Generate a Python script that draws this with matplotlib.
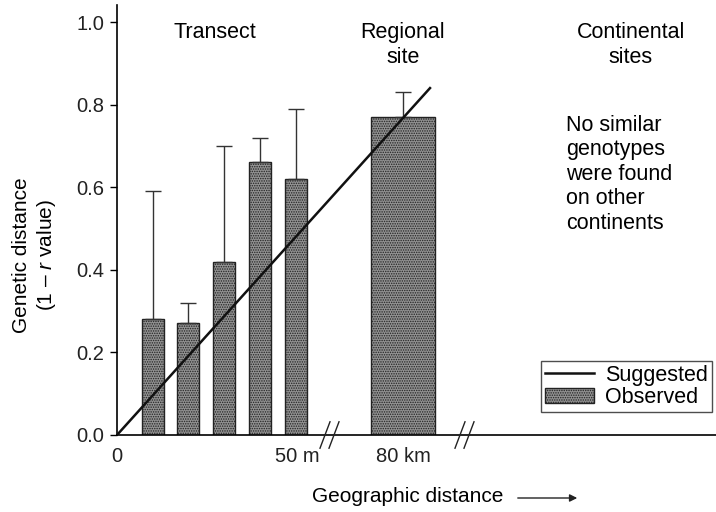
import numpy as np
import matplotlib
matplotlib.use('Agg')
import matplotlib.pyplot as plt

plt.rcParams['font.family'] = ['Liberation Sans', 'DejaVu Sans']
plt.rcParams['mathtext.fontset'] = 'custom'
plt.rcParams['mathtext.it'] = 'Liberation Sans:italic'
plt.rcParams['mathtext.rm'] = 'Liberation Sans'
plt.rcParams['hatch.color'] = '#3c3c3c'
plt.rcParams['hatch.linewidth'] = 0.7

## Data (x positions on a stretched, broken distance axis)
transect_x = [36, 71, 107, 143, 179]
transect_y = [0.28, 0.27, 0.42, 0.66, 0.62]
transect_err = [0.31, 0.05, 0.28, 0.06, 0.17]
regional_x = [286]
regional_y = [0.77]
regional_err = [0.06]
line_x = [0, 313]
line_y = [0.0, 0.84]
tick_pos = [0, 180, 286]
tick_labels = ['0', '50 m', '80 km']
yticks = [0.0, 0.2, 0.4, 0.6, 0.8, 1.0]

fig = plt.figure(figsize=(7.16, 5.12), dpi=100)
ax = fig.add_axes([117/716, 77/512, 599/716, 430/512])

bar_kw = dict(color='#929292', edgecolor='#222222', linewidth=1.0, hatch='.......',
              error_kw=dict(ecolor='#333333', elinewidth=1.0, capsize=6, capthick=1.0))
ax.bar(transect_x, transect_y, width=22, yerr=[np.zeros(5), transect_err], **bar_kw)
ax.bar(regional_x, regional_y, width=64, yerr=[np.zeros(1), regional_err], label='Observed', **bar_kw)
ax.plot(line_x, line_y, color='#111111', linewidth=1.8, label='Suggested', zorder=5)

ax.set_xlim(0, 599)
ax.set_ylim(0, 430/413)
ax.set_yticks(yticks)
ax.set_yticklabels(['%.1f' % v for v in yticks], fontsize=14.5, color='#222222')
ax.set_xticks(tick_pos)
ax.set_xticklabels(tick_labels, fontsize=14.5, color='#222222')
ax.tick_params(axis='x', length=0, pad=9)
ax.tick_params(axis='y', length=5, width=1, direction='out', pad=4)
for s in ['top', 'right']:
    ax.spines[s].set_visible(False)
ax.spines['left'].set_linewidth(1.2)
ax.spines['bottom'].set_linewidth(1.2)

## axis break marks
for bx in [213, 348]:
    for dx in [-5, 4]:
        ax.plot([bx + dx - 5, bx + dx + 5], [-0.032, 0.032], color='#222222', linewidth=1.0,
                clip_on=False, zorder=6)

## region labels
fs = 15.5
ax.text(98, 1.0, 'Transect', ha='center', va='top', fontsize=fs)
ax.text(286, 1.0, 'Regional\nsite', ha='center', va='top', fontsize=fs, linespacing=1.22)
ax.text(514, 1.0, 'Continental\nsites', ha='center', va='top', fontsize=fs, linespacing=1.22)
ax.text(449, 0.775, 'No similar\ngenotypes\nwere found\non other\ncontinents', ha='left', va='top',
        fontsize=fs, linespacing=1.22)

leg = ax.legend(loc='lower right', bbox_to_anchor=(0.994, 0.053),
                fontsize=fs, frameon=True, fancybox=False, handlelength=2.3, borderpad=0.2,
                handletextpad=0.5, labelspacing=0.05, borderaxespad=0)
leg.get_frame().set_edgecolor('#222222')
leg.get_frame().set_linewidth(1.0)

fig.text(35/716, 1 - 255/512, 'Genetic distance\n(1 – $\\it{r}$ value)', rotation=90, ha='center',
         va='center', fontsize=15, linespacing=1.2)
fig.text(312/716, 1 - 497/512, 'Geographic distance', ha='left', va='center', fontsize=15)
fig.add_artist(matplotlib.patches.FancyArrowPatch((515/716, 1 - 498/512), (580/716, 1 - 498/512),
               transform=fig.transFigure, arrowstyle='-|>', mutation_scale=11, color='#222222',
               linewidth=1.0))

fig.savefig('out.png', dpi=100)
